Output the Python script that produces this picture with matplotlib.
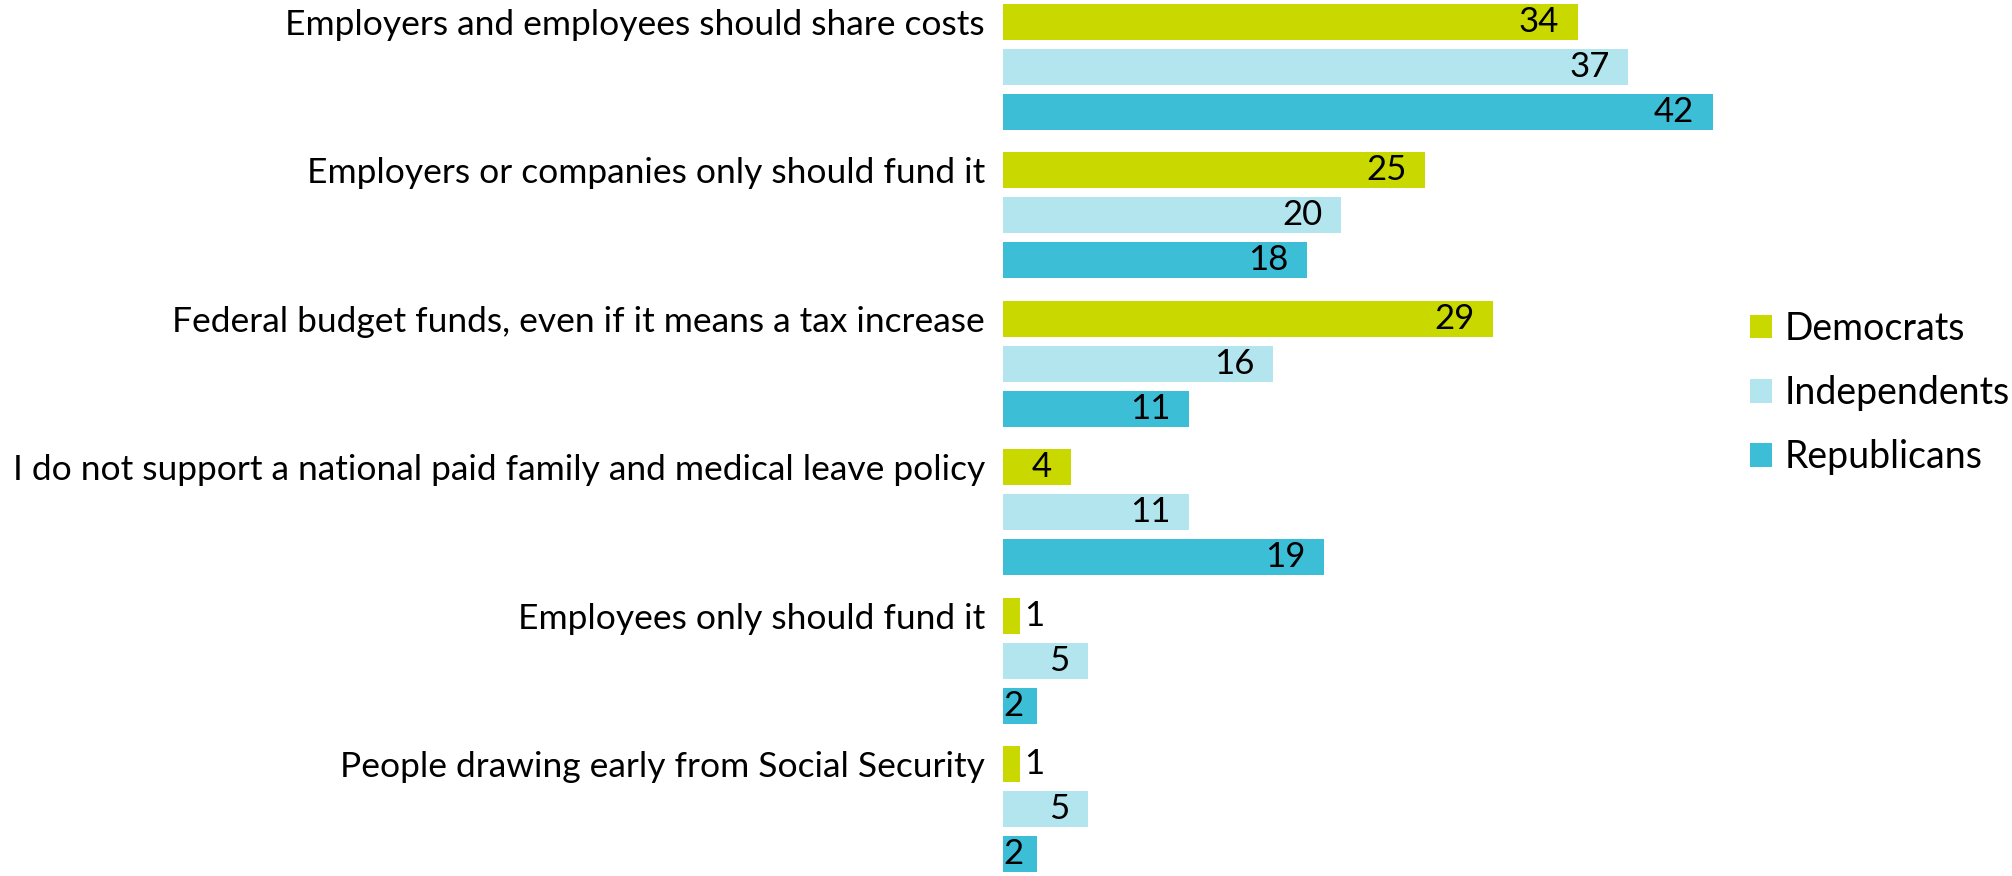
import numpy as np
import matplotlib.pyplot as plt

categories = [
    "Employers and employees should share costs",
    "Employers or companies only should fund it",
    "Federal budget funds, even if it means a tax increase",
    "I do not support a national paid family and medical leave policy",
    "Employees only should fund it",
    "People drawing early from Social Security",
]
parties = ["Democrats", "Independents", "Republicans"]
democrats = [34, 25, 29, 4, 1, 1]
independents = [37, 20, 16, 11, 5, 5]
republicans = [42, 18, 11, 19, 2, 2]

colors = ["#C9D900", "#B3E5EE", "#3DBED7"]
plt.rcParams["font.family"] = ["Lato", "DejaVu Sans"]

W, H = 2012, 876
fig = plt.figure(figsize=(W / 100, H / 100), dpi=100)

# layout in pixels
x0 = 1003
px_per_unit = 16.9
xmax = 44
group_px = 148.4
top_px = 22
step = 45 / group_px
bar_h = 36 / group_px

ax = fig.add_axes([x0 / W, 0, xmax * px_per_unit / W, 1])
ax.set_xlim(0, xmax)
ax.set_ylim((H - top_px) / group_px, -top_px / group_px)

y = np.arange(len(categories))
series = [democrats, independents, republicans]
containers = []
for s, (vals, name, col) in enumerate(zip(series, parties, colors)):
    bars = ax.barh(y + s * step, vals, height=bar_h, color=col, label=name)
    containers.append(bars)
    for rect, v in zip(bars, vals):
        yc = rect.get_y() + rect.get_height() / 2
        if v <= 1:
            # too thin to hold the number, put it just past the end
            ax.text(v + 0.25, yc, str(v), ha="left", va="center", fontsize=25)
        else:
            pad = min(1.1, v - 1.2)
            ax.text(v - pad, yc, str(v), ha="right", va="center", fontsize=25)

ax.set_yticks(y)
ax.set_yticklabels(categories, fontsize=25.5)
ax.tick_params(axis="y", length=0, pad=13)
ax.set_xticks([])
for sp in ax.spines.values():
    sp.set_visible(False)

fig.legend(handles=containers, loc="center left",
           bbox_to_anchor=(1750 / W, 1 - 393 / H), frameon=False,
           fontsize=27, handlelength=0.59, handleheight=0.59,
           handletextpad=0.32, labelspacing=0.75,
           borderpad=0, borderaxespad=0)

fig.savefig("out.png", dpi=100)
